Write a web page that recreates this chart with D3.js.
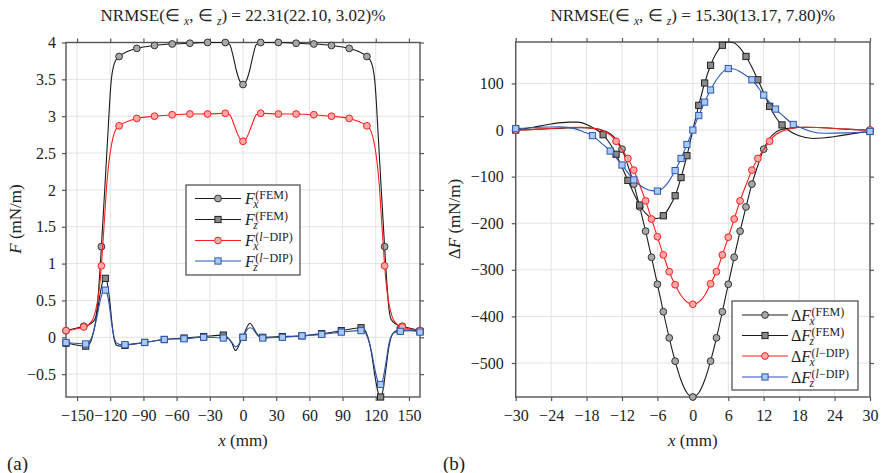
<!DOCTYPE html>
<html>
<head>
<meta charset="utf-8">
<script src="https://cdn.jsdelivr.net/npm/d3@7"></script>
<style>
  body { margin: 0; background: #fff; }
  svg { display: block; }
  text { font-family: 'Liberation Serif', 'Times New Roman', serif; fill: #222; }
</style>
</head>
<body>
<div id="chart"></div>
<script>
// ---------- data: panel (a) ----------
const aXTicks = [-150, -120, -90, -60, -30, 0, 30, 60, 90, 120, 150];
const aYTicks = [-0.5, 0, 0.5, 1, 1.5, 2, 2.5, 3, 3.5, 4];
const aNrmse = ['22.31', '22.10', '3.02'];

const aFxMarkX = [-160, -144, -128, -112, -96, -80, -64, -48, -32, -16, 0, 16, 32, 48, 64, 80, 96, 112, 128, 144, 160];
const aFxFemMark = [0.09, 0.15, 1.23, 3.81, 3.92, 3.96, 3.98, 3.99, 4.00, 4.00, 3.43, 4.00, 4.00, 3.99, 3.98, 3.96, 3.92, 3.81, 1.23, 0.15, 0.09];
const aFxDipMark = [0.09, 0.14, 0.97, 2.87, 2.97, 3.00, 3.02, 3.03, 3.03, 3.04, 2.66, 3.04, 3.03, 3.03, 3.02, 3.00, 2.97, 2.87, 0.97, 0.14, 0.09];
const aFzMarkX = [-160, -142.2, -124.4, -106.7, -88.9, -71.1, -53.3, -35.6, -17.8, 0, 17.8, 35.6, 53.3, 71.1, 88.9, 106.7, 124.4, 142.2, 160];
const aFzFemMark = [-0.08, -0.12, 0.80, -0.11, -0.07, -0.03, -0.01, 0.01, 0.03, 0.00, 0.00, 0.01, 0.02, 0.05, 0.09, 0.13, -0.81, 0.10, 0.08];
const aFzDipMark = [-0.07, -0.09, 0.64, -0.10, -0.07, -0.03, -0.02, 0.00, -0.01, 0.00, -0.01, 0.00, 0.02, 0.04, 0.07, 0.09, -0.64, 0.08, 0.07];

// curves (x mm, F mN/m)
const aFxFemLine = [[-160,0.09],[-152,0.12],[-144,0.15],[-138,0.18],[-134,0.24],[-132,0.38],[-130,0.75],[-128,1.23],[-125,2.0],[-122,2.8],[-120.5,3.2],[-119,3.5],[-117,3.68],[-115,3.76],[-112,3.81],[-104,3.88],[-96,3.92],[-80,3.96],[-64,3.98],[-48,3.99],[-32,4.00],[-16,4.00],[-12,3.97],[-9,3.82],[-6,3.62],[-3,3.48],[0,3.43],[3,3.48],[6,3.62],[9,3.82],[12,3.97],[16,4.00],[32,4.00],[48,3.99],[64,3.98],[80,3.96],[96,3.92],[104,3.88],[112,3.81],[115,3.76],[117,3.68],[119,3.5],[120.5,3.2],[122,2.8],[125,2.0],[128,1.23],[130,0.75],[132,0.38],[134,0.24],[138,0.18],[144,0.15],[152,0.12],[160,0.09]];
const aFxDipLine = [[-160,0.09],[-152,0.11],[-144,0.14],[-139,0.18],[-135,0.27],[-132,0.45],[-130,0.65],[-128,0.97],[-127,1.2],[-125,1.65],[-123,2.1],[-121,2.4],[-119,2.6],[-117,2.74],[-115,2.82],[-112,2.87],[-104,2.93],[-96,2.97],[-80,3.00],[-64,3.02],[-48,3.03],[-32,3.03],[-16,3.04],[-12,3.02],[-8,2.88],[-5,2.76],[-2.5,2.69],[0,2.66],[2.5,2.69],[5,2.76],[8,2.88],[12,3.02],[16,3.04],[32,3.03],[48,3.03],[64,3.02],[80,3.00],[96,2.97],[104,2.93],[112,2.87],[115,2.82],[117,2.74],[119,2.6],[121,2.4],[123,2.1],[125,1.65],[127,1.2],[128,0.97],[130,0.65],[132,0.45],[135,0.27],[139,0.18],[144,0.14],[152,0.11],[160,0.09]];
const aFzFemLine = [[-160,-0.08],[-152,-0.10],[-142.2,-0.12],[-138,-0.07],[-135,0.08],[-132,0.32],[-129,0.6],[-126.5,0.77],[-124.4,0.80],[-122.5,0.72],[-120.5,0.5],[-118.5,0.2],[-116.5,-0.02],[-114,-0.11],[-110,-0.12],[-106.7,-0.11],[-88.9,-0.07],[-71.1,-0.03],[-53.3,-0.01],[-35.6,0.01],[-17.8,0.03],[-14,0.0],[-10,-0.08],[-6.8,-0.18],[-4,-0.12],[-2,-0.05],[0,0.0],[3,0.12],[6.3,0.19],[9,0.14],[12,0.06],[15,0.01],[17.8,0.0],[35.6,0.01],[53.3,0.02],[71.1,0.05],[88.9,0.09],[106.7,0.13],[110,0.1],[113,0.0],[116,-0.2],[119,-0.5],[122,-0.74],[124.4,-0.81],[126.5,-0.72],[129,-0.45],[132,-0.12],[135,0.04],[138.5,0.09],[142.2,0.10],[150,0.10],[160,0.08]];
const aFzDipLine = [[-160,-0.07],[-152,-0.08],[-142.2,-0.09],[-138,-0.04],[-135,0.08],[-132,0.28],[-129,0.5],[-126.5,0.62],[-124.4,0.64],[-122.5,0.57],[-120.5,0.4],[-118.5,0.16],[-116.5,0.0],[-114,-0.08],[-110,-0.1],[-106.7,-0.10],[-88.9,-0.07],[-71.1,-0.03],[-53.3,-0.02],[-35.6,0.0],[-17.8,-0.01],[-13,-0.02],[-9.5,-0.08],[-6.5,-0.13],[-4,-0.1],[-2,-0.04],[0,0.0],[2,0.06],[4,0.11],[6.5,0.13],[9,0.11],[12,0.05],[15,0.0],[17.8,-0.01],[35.6,0.0],[53.3,0.02],[71.1,0.04],[88.9,0.07],[106.7,0.09],[110,0.07],[113,-0.02],[116,-0.18],[119,-0.42],[122,-0.6],[124.4,-0.64],[126.5,-0.57],[129,-0.36],[132,-0.08],[135,0.04],[138.5,0.07],[142.2,0.08],[150,0.09],[160,0.07]];

// ---------- data: panel (b) ----------
const bXTicks = [-30, -24, -18, -12, -6, 0, 6, 12, 18, 24, 30];
const bYTicks = [-500, -400, -300, -200, -100, 0, 100];
const bNrmse = ['15.30', '13.17', '7.80'];

const bFxFemMarkX = [-30, -12, -10, -9, -8, -7, -6, -5, -4, -3, 0, 3, 4, 5, 6, 7, 8, 9, 10, 12, 30];
const bFxFemMark = [0, -41, -116, -165, -217, -273, -331, -390, -446, -496, -573, -496, -446, -390, -331, -273, -217, -165, -116, -41, 0];
const bFzFemMarkX = [-30, -15.2, -13, -11, -9, -5, -3, -2, -1, 1, 2, 3, 5, 9, 11, 13, 15.1, 30];
const bFzFemMark = [0, -10, -52, -108, -161, -184, -141, -102, -55, 53, 101, 139, 182, 158, 108, 51, 11, -3];
const bFxDipMarkX = [-30, -13, -11, -10, -8, -7, -6, -5, -4, -3, 0, 3, 4, 5, 6, 7, 8, 10, 11, 13, 30];
const bFxDipMark = [0, -24, -61, -86, -152, -191, -229, -268, -304, -332, -374, -330, -304, -268, -230, -191, -152, -86, -61, -24, 0];
const bFzDipMarkX = [-30, -17, -14, -12, -10, -6, -3, -2, -1, 0, 1, 2, 3, 6, 10, 12, 14, 17, 30];
const bFzDipMark = [3, -12, -45, -75, -107, -131, -87, -61, -31, 0, 31, 60, 86, 132, 108, 75, 45, 12, -3];

const bFxFemLine = [[-30,0],[-26,2],[-22,4],[-19,5],[-16.5,3],[-15,-2],[-14,-8],[-13,-20],[-12,-41],[-11,-76],[-10,-116],[-9,-165],[-8,-217],[-7,-273],[-6,-331],[-5,-390],[-4,-446],[-3,-496],[-2,-537],[-1,-564],[0,-573],[1,-564],[2,-537],[3,-496],[4,-446],[5,-390],[6,-331],[7,-273],[8,-217],[9,-165],[10,-116],[11,-76],[12,-41],[13,-18],[14,-5],[15,1],[16.5,4],[19,6],[22,5],[26,2],[30,0]];
const bFzFemLine = [[-30,0],[-27,6],[-24,13],[-21,17],[-19.5,17],[-18,12],[-16.5,2],[-15.2,-10],[-14,-30],[-13,-52],[-12,-80],[-11,-108],[-10,-136],[-9,-161],[-8,-179],[-7,-188],[-6,-190],[-5,-184],[-4,-166],[-3,-141],[-2,-102],[-1,-55],[0,0],[1,53],[2,101],[3,139],[4,166],[5,182],[6,189],[7,187],[8,176],[9,158],[10,135],[11,108],[12,80],[13,51],[14,28],[15.1,11],[16.5,-3],[18,-12],[20.4,-18],[22,-17],[25,-12],[28,-6],[30,-3]];
const bFxDipLine = [[-30,0],[-26,2],[-22,5],[-19,6],[-16.5,3],[-15,-3],[-14,-10],[-13,-24],[-12,-42],[-11,-61],[-10,-86],[-9,-118],[-8,-152],[-7,-191],[-6,-229],[-5,-268],[-4,-304],[-3,-332],[-2,-355],[-1,-369],[0,-374],[1,-369],[2,-355],[3,-330],[4,-304],[5,-268],[6,-230],[7,-191],[8,-152],[9,-118],[10,-86],[11,-61],[12,-42],[13,-24],[14,-10],[15,-3],[16.5,3],[19,6],[22,5],[26,2],[30,0]];
const bFzDipLine = [[-30,3],[-26,6],[-22.5,7],[-20,3],[-18.5,-4],[-17,-12],[-15.5,-28],[-14,-45],[-12,-75],[-10,-107],[-9,-118],[-8,-126],[-7,-130],[-6,-131],[-5,-124],[-4,-109],[-3,-87],[-2,-61],[-1,-31],[0,0],[1,31],[2,60],[3,86],[4,108],[5,124],[6,132],[7,131],[8,125],[9,117],[10,108],[12,75],[14,45],[15.5,28],[17,12],[18.5,4],[20,-3],[22.5,-7],[26,-6],[30,-3]];

const legendSubs = ['x', 'z', 'x', 'z'];
const legendSups = ['(FEM)', '(FEM)', '(l−DIP)', '(l−DIP)'];

// ---------- styles ----------
const styles = [
  { stroke: '#1c1c1c', fill: '#a8a8a8', mStroke: '#333', shape: 'circle' },
  { stroke: '#1c1c1c', fill: '#8a8a8a', mStroke: '#222', shape: 'square' },
  { stroke: '#ff1f1f', fill: '#f8a8a8', mStroke: '#ff1f1f', shape: 'circle' },
  { stroke: '#2f57b3', fill: '#a8c9f2', mStroke: '#2f57b3', shape: 'square' }
];
const FONT = "'Liberation Serif', 'Times New Roman', serif";

const svg = d3.select('#chart').append('svg').attr('width', 881).attr('height', 473);

// text made of [string, italic] pieces
function rich(sel, parts) {
  parts.forEach(([t, it]) => sel.append('tspan').attr('font-style', it ? 'italic' : 'normal').text(t));
  return sel;
}

function marker(g, st, cx, cy) {
  if (st.shape === 'circle') {
    g.append('circle').attr('cx', cx).attr('cy', cy).attr('r', 3.4)
      .attr('fill', st.fill).attr('stroke', st.mStroke).attr('stroke-width', 1);
  } else {
    g.append('rect').attr('x', cx - 3.1).attr('y', cy - 3.1).attr('width', 6.2).attr('height', 6.2)
      .attr('fill', st.fill).attr('stroke', st.mStroke).attr('stroke-width', 1);
  }
}

function drawPanel(p) {
  const x = d3.scaleLinear().domain(p.xDomain).range([p.left, p.right]);
  const y = d3.scaleLinear().domain(p.yDomain).range([p.bottom, p.top]);
  const g = svg.append('g');

  // grid
  g.append('g').selectAll('line').data(p.xTicks).join('line')
    .attr('x1', d => x(d)).attr('x2', d => x(d)).attr('y1', p.top).attr('y2', p.bottom)
    .attr('stroke', '#e3e3e3');
  g.append('g').selectAll('line').data(p.yTicks).join('line')
    .attr('x1', p.left).attr('x2', p.right).attr('y1', d => y(d)).attr('y2', d => y(d))
    .attr('stroke', '#e3e3e3');

  // axes on all four sides, ticks outward
  const fmt = d3.format('~g');
  const addAxis = (axis, tr) => g.append('g').attr('transform', tr).call(axis)
    .attr('font-family', FONT).attr('font-size', 16)
    .call(a => a.select('.domain').remove())
    .call(a => a.selectAll('.tick line').attr('stroke', '#555').attr('stroke-width', 1.2))
    .call(a => a.selectAll('.tick text').attr('fill', '#222'));
  addAxis(d3.axisBottom(x).tickValues(p.xTicks).tickFormat(fmt).tickSize(4).tickPadding(9), `translate(0,${p.bottom})`);
  addAxis(d3.axisTop(x).tickValues(p.xTicks).tickFormat('').tickSize(4), `translate(0,${p.top})`);
  addAxis(d3.axisLeft(y).tickValues(p.yTicks).tickFormat(fmt).tickSize(4).tickPadding(p.yPad), `translate(${p.left},0)`);
  addAxis(d3.axisRight(y).tickValues(p.yTicks).tickFormat('').tickSize(4), `translate(${p.right},0)`);

  g.append('rect').attr('x', p.left).attr('y', p.top)
    .attr('width', p.right - p.left).attr('height', p.bottom - p.top)
    .attr('fill', 'none').attr('stroke', '#555').attr('stroke-width', 1.4);

  // series
  const line = d3.line().x(d => x(d[0])).y(d => y(d[1])).curve(d3.curveMonotoneX);
  p.series.forEach((s, i) => {
    const st = styles[i];
    g.append('path').datum(s.line).attr('d', line)
      .attr('fill', 'none').attr('stroke', st.stroke).attr('stroke-width', 1.1);
    const mg = g.append('g');
    d3.zip(s.mx, s.my).forEach(d => marker(mg, st, x(d[0]), y(d[1])));
  });

  // title
  const n = p.nrmse;
  const t = g.append('text').attr('x', (p.left + p.right) / 2).attr('y', 21)
    .attr('text-anchor', 'middle').attr('font-size', 17);
  t.append('tspan').text('NRMSE(∈ ');
  t.append('tspan').attr('font-style', 'italic').attr('font-size', 11.5).attr('dy', 4).text('x');
  t.append('tspan').attr('dy', -4).text(', ∈ ');
  t.append('tspan').attr('font-style', 'italic').attr('font-size', 11.5).attr('dy', 4).text('z');
  t.append('tspan').attr('dy', -4).text(`) = ${n[0]}(${n[1]}, ${n[2]})%`);

  // axis labels
  rich(g.append('text').attr('x', (p.left + p.right) / 2).attr('y', 446)
    .attr('text-anchor', 'middle').attr('font-size', 17), [['x', true], [' (mm)', false]]);
  rich(g.append('text').attr('transform', `translate(${p.yLabelX},219) rotate(-90)`)
    .attr('text-anchor', 'middle').attr('font-size', 17), p.yLabel);
  g.append('text').attr('x', p.tagX).attr('y', 470).attr('font-size', 19).text(p.tag);

  // legend
  const L = p.legend;
  const lg = g.append('g');
  lg.append('rect').attr('x', L.x0).attr('y', L.y0).attr('width', L.x1 - L.x0).attr('height', L.y1 - L.y0)
    .attr('fill', '#fff').attr('stroke', '#555').attr('stroke-width', 1.3);
  L.rows.forEach((ry, i) => {
    const st = styles[i];
    lg.append('line').attr('x1', L.lx0).attr('x2', L.lx1).attr('y1', ry).attr('y2', ry)
      .attr('stroke', st.stroke).attr('stroke-width', 1.1);
    marker(lg, st, (L.lx0 + L.lx1) / 2, ry);
    const main = rich(lg.append('text').attr('x', L.tx).attr('y', ry + 5.5).attr('font-size', 16), L.prefix);
    const w = main.node().getComputedTextLength();
    lg.append('text').attr('x', L.tx + w - 1.5).attr('y', ry + 9.5).attr('font-size', 11.5)
      .attr('font-style', 'italic').text(legendSubs[i]);
    const sup = lg.append('text').attr('x', L.tx + w + 0.5).attr('y', ry + 0.5).attr('font-size', 12);
    const s = legendSups[i];
    if (s.indexOf('l') >= 0) {
      rich(sup, [['(', false], ['l', true], [s.slice(2), false]]);
    } else {
      sup.text(s);
    }
  });
}

drawPanel({
  xDomain: [-160, 160], yDomain: [-0.81, 4.0],
  left: 66, right: 420, top: 42.5, bottom: 397,
  xTicks: aXTicks, yTicks: aYTicks, yPad: 6, nrmse: aNrmse,
  yLabel: [['F', true], [' (mN/m)', false]], yLabelX: 21, tag: '(a)', tagX: 7,
  series: [
    { line: aFxFemLine, mx: aFxMarkX, my: aFxFemMark },
    { line: aFzFemLine, mx: aFzMarkX, my: aFzFemMark },
    { line: aFxDipLine, mx: aFxMarkX, my: aFxDipMark },
    { line: aFzDipLine, mx: aFzMarkX, my: aFzDipMark }
  ],
  legend: { x0: 186, x1: 300, y0: 185, y1: 275, rows: [198.5, 219.5, 240.5, 261],
            lx0: 195, lx1: 241, tx: 245, prefix: [['F', true]] }
});

drawPanel({
  xDomain: [-30, 30], yDomain: [-573, 189],
  left: 515.7, right: 870, top: 42, bottom: 397,
  xTicks: bXTicks, yTicks: bYTicks, yPad: 8, nrmse: bNrmse,
  yLabel: [['Δ', false], ['F', true], [' (mN/m)', false]], yLabelX: 460, tag: '(b)', tagX: 443,
  series: [
    { line: bFxFemLine, mx: bFxFemMarkX, my: bFxFemMark },
    { line: bFzFemLine, mx: bFzFemMarkX, my: bFzFemMark },
    { line: bFxDipLine, mx: bFxDipMarkX, my: bFxDipMark },
    { line: bFzDipLine, mx: bFzDipMarkX, my: bFzDipMark }
  ],
  legend: { x0: 732, x1: 858, y0: 301, y1: 390, rows: [315, 335.5, 356, 377],
            lx0: 742, lx1: 788, tx: 791, prefix: [['Δ', false], ['F', true]] }
});
</script>
</body>
</html>
